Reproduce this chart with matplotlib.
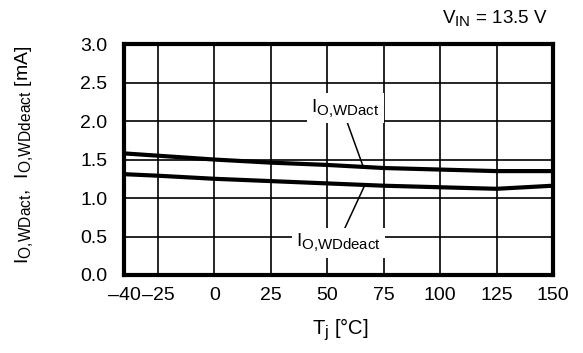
import matplotlib

matplotlib.use("Agg")
import matplotlib.pyplot as plt
import matplotlib._mathtext as mathtext

# Junction temperature (°C) and output currents (mA)
tj = [-40, -25, 0, 25, 50, 75, 100, 125, 150]
i_wdact = [1.58, 1.55, 1.50, 1.46, 1.43, 1.39, 1.37, 1.35, 1.35]
i_wddeact = [1.31, 1.29, 1.25, 1.22, 1.19, 1.16, 1.14, 1.12, 1.16]

x_ticks = [-40, -25, 0, 25, 50, 75, 100, 125, 150]
x_ticklabels = ["\u201340", "\u201325", "0", "25", "50", "75", "100", "125", "150"]
y_ticks = [0.0, 0.5, 1.0, 1.5, 2.0, 2.5, 3.0]

plt.rcParams["font.family"] = ["Liberation Sans", "DejaVu Sans"]
plt.rcParams["mathtext.fontset"] = "custom"
plt.rcParams["mathtext.rm"] = "Liberation Sans"
plt.rcParams["mathtext.it"] = "Liberation Sans"
# datasheet subscripts are a bit bigger than mathtext's default
mathtext.SHRINK_FACTOR = 0.8

LBL_ACT = r"$\mathregular{I_{O{,}WDact}}$"
LBL_DEACT = r"$\mathregular{I_{O{,}WDdeact}}$"

fig = plt.figure(figsize=(5.83, 3.53), dpi=100)
ax = fig.add_axes([0.213, 0.221, 0.9485 - 0.213, 0.875 - 0.221])

ax.plot(tj, i_wdact, color="black", linewidth=3.0, zorder=3, solid_capstyle="butt")
ax.plot(tj, i_wddeact, color="black", linewidth=3.0, zorder=3, solid_capstyle="butt")

ax.set_xlim(-40, 150)
ax.set_ylim(0, 3.0)
ax.set_xticks(x_ticks)
ax.set_xticklabels(x_ticklabels)
ax.set_yticks(y_ticks)
ax.set_yticklabels(["%.1f" % v for v in y_ticks])
ax.tick_params(length=0, labelsize=14, colors="black")
ax.tick_params(axis="x", pad=9)
ax.tick_params(axis="y", pad=12)

ax.grid(True, color="black", linewidth=1.2, zorder=1)
ax.set_axisbelow(True)
for sp in ax.spines.values():
    sp.set_linewidth(3.0)
    sp.set_zorder(6)

# curve labels with white boxes hiding the grid, plus leader lines
box = dict(facecolor="white", edgecolor="none", pad=3)
ax.text(58.0, 2.17, LBL_ACT, fontsize=13.5, ha="center", va="center", bbox=box, zorder=5)
ax.text(55.0, 0.42, LBL_DEACT, fontsize=13.5, ha="center", va="center", bbox=box, zorder=5)
ax.plot([58.0, 66.0], [2.05, 1.40], color="black", linewidth=1.1, zorder=4)
ax.plot([57.0, 66.5], [0.56, 1.16], color="black", linewidth=1.1, zorder=4)

ax.set_xlabel(r"$\mathregular{T_j}$ [°C]", fontsize=14.5, va="center")
ax.xaxis.set_label_coords(0.503, -0.238)
ax.set_ylabel(LBL_ACT + ",  " + LBL_DEACT + " [mA]", fontsize=14, va="center")
ax.yaxis.set_label_coords(-0.233, 0.52)

fig.text(548 / 583, 1 - 18 / 353, r"$\mathregular{V_{IN}}$ = 13.5 V", fontsize=13.5,
         ha="right", va="center")

fig.savefig("out.png", dpi=100)
